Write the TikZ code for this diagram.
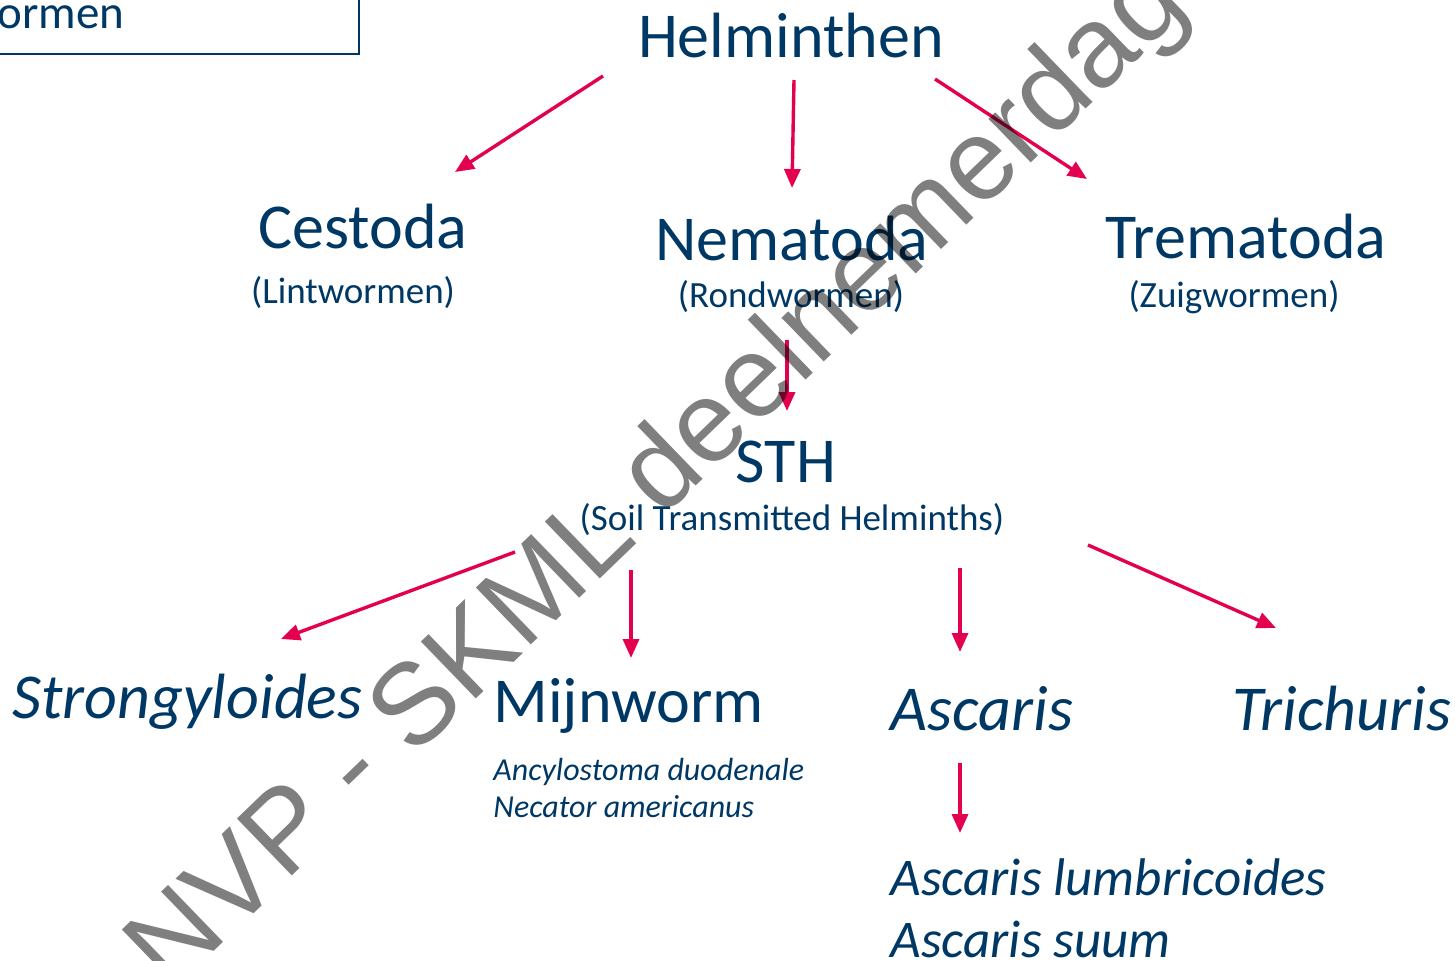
\documentclass[tikz,border=0pt]{standalone}
\usepackage{fontspec}
\setmainfont{Carlito}
\newfontfamily\wmfont{Liberation Sans}
\usepackage{tikz}
\usetikzlibrary{positioning, arrows.meta}
\usepackage{xcolor}

\definecolor{helmblue}{RGB}{0,56,101}
\definecolor{helmred}{RGB}{228,0,80}

\begin{document}
\begin{tikzpicture}[x=0.5pt, y=-0.5pt, inner sep=0pt,
    txt/.style={text=helmblue, anchor=base},
    big/.style={txt, font=\fontsize{32}{38}\selectfont},
    sub/.style={txt, font=\fontsize{18.5}{22}\selectfont},
    species/.style={big, anchor=base west, font=\fontsize{32}{38}\selectfont\itshape},
    arr/.style={color=helmred, line width=1.7pt, -{Triangle[length=9.5pt, width=8pt]}}]
    \useasboundingbox (0,0) rectangle (1455,960);

    % corner box
    \draw[helmblue, line width=1pt] (-20,-20) rectangle (359,54);
    \node[txt, anchor=base east, font=\fontsize{23.5}{28}\selectfont] (corner) at (125,28) {ormen};

    % top levels
    \node[big] (helm) at (791,57) {Helminthen};
    \node[big] (cest) at (363,248) {Cestoda};
    \node[big] (nema) at (792,260) {Nematoda};
    \node[big] (trem) at (1246,258) {Trematoda};
    \node[sub] (lint) at (353,303) {(Lintwormen)};
    \node[sub] (rond) at (791,307) {(Rondwormen)};
    \node[sub] (zuig) at (1234,307) {(Zuigwormen)};

    \node[big] (sth) at (786,482) {STH};
    \node[sub] (soil) at (792,530) {(Soil Transmitted Helminths)};

    % bottom level
    \node[species] (strong) at (12,718) {Strongyloides};
    \node[big, anchor=base west] (mijn) at (493,722) {Mijnworm};
    \node[species] (asc) at (890,730) {Ascaris};
    \node[species] (trich) at (1232,730) {Trichuris};
    \node[txt, anchor=base west, font=\fontsize{16}{19}\selectfont\itshape] (ancy) at (493,780) {Ancylostoma duodenale};
    \node[txt, anchor=base west, font=\fontsize{16}{19}\selectfont\itshape] (neca) at (493,817) {Necator americanus};
    \node[txt, anchor=base west, font=\fontsize{26.5}{31}\selectfont\itshape] (asclum) at (890,895) {Ascaris lumbricoides};
    \node[txt, anchor=base west, font=\fontsize{26.5}{31}\selectfont\itshape] (ascsuum) at (890,957) {Ascaris suum};

    % arrow ends
    \coordinate (helm-c) at (603,76);  \coordinate (cest-t) at (455,172);
    \coordinate (helm-n) at (794,80);  \coordinate (nema-t) at (792,188);
    \coordinate (helm-t) at (935,79);  \coordinate (trem-t) at (1087,179);
    \coordinate (rond-b) at (787,340); \coordinate (sth-t) at (787,411);
    \coordinate (soil-s) at (515,552); \coordinate (strong-t) at (281,639);
    \coordinate (soil-m) at (631,570); \coordinate (mijn-t) at (631,658);
    \coordinate (soil-a) at (960,568); \coordinate (asc-t) at (960,652);
    \coordinate (soil-t) at (1088,545); \coordinate (trich-t) at (1276,628);
    \coordinate (asc-b) at (960,763); \coordinate (asclum-t) at (960,833);

    \path[arr] (helm-c) edge (cest-t)
        (helm-n) edge (nema-t)
        (helm-t) edge (trem-t)
        (rond-b) edge (sth-t)
        (soil-s) edge (strong-t)
        (soil-m) edge (mijn-t)
        (soil-a) edge (asc-t)
        (soil-t) edge (trich-t)
        (asc-b) edge (asclum-t);

    % watermark
    \node[anchor=base west, rotate=44, text=black, text opacity=0.5,
        font=\wmfont\fontsize{57.5}{60}\selectfont] (mark) at (170,994) {NVP - SKML deelnemerdag};
\end{tikzpicture}
\end{document}
